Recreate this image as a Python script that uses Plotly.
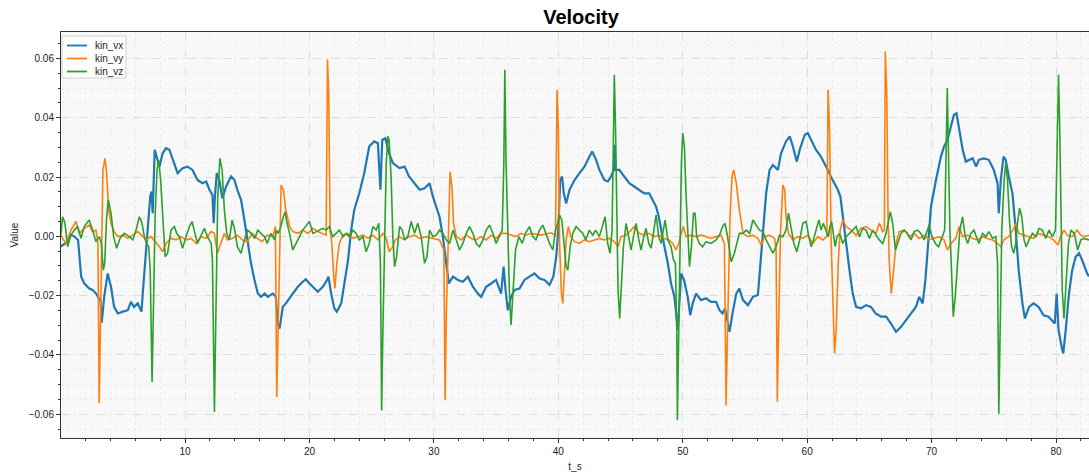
import plotly.graph_objects as go

# ---------------- data ----------------
t_vx = [0.0, 0.5, 0.8, 1.1, 1.4, 1.65, 1.9, 2.3, 2.57, 2.85, 3.0, 3.2, 3.3, 3.5, 3.78, 4.05, 4.3, 4.6, 5.0, 5.4,
        5.65, 5.9, 6.2, 6.5, 6.6, 6.8, 7.0, 7.2, 7.3, 7.4, 7.56, 7.72, 7.94, 8.2, 8.47, 8.74, 9.14, 9.4, 9.8, 10.2,
        10.6, 11.0, 11.4, 11.7, 11.96, 12.2, 12.3, 12.4, 12.55, 12.76, 13.0, 13.3, 13.7, 13.97, 14.2, 14.5, 14.77, 15.04, 15.3, 15.58,
        15.85, 16.1, 16.4, 16.65, 17.05, 17.3, 17.45, 17.6, 17.85, 18.1, 18.4, 18.66, 19.06, 19.46, 19.7, 20.0, 20.27, 20.67, 21.07, 21.34,
        21.53, 21.74, 22.0, 22.2, 22.55, 22.8, 23.1, 23.35, 23.6, 24.0, 24.4, 24.8, 25.2, 25.5, 25.7, 25.85, 26.1, 26.4, 26.7, 27.24,
        27.64, 28.0, 28.45, 28.85, 29.25, 29.65, 29.92, 30.19, 30.45, 30.72, 30.99, 31.2, 31.53, 31.93, 32.33, 32.73, 33.13, 33.53, 33.8, 34.2,
        34.6, 35.0, 35.4, 35.6, 35.76, 35.94, 36.2, 36.48, 36.88, 37.28, 37.68, 38.08, 38.49, 38.89, 39.29, 39.6, 39.83, 40.0, 40.15, 40.3,
        40.44, 40.63, 40.9, 41.3, 41.7, 42.1, 42.5, 42.72, 43.04, 43.3, 43.7, 43.98, 44.24, 44.45, 44.52, 44.6, 44.9, 45.3, 45.7, 46.1,
        46.5, 46.9, 47.3, 47.6, 47.86, 48.07, 48.26, 48.53, 48.8, 49.06, 49.33, 49.6, 49.87, 50.1, 50.4, 50.6, 50.8, 51.07, 51.47, 51.87,
        52.27, 52.68, 52.95, 53.2, 53.4, 53.6, 53.75, 54.0, 54.3, 54.55, 54.84, 55.24, 55.64, 56.04, 56.2, 56.44, 56.7, 56.98, 57.25, 57.65,
        57.9, 58.3, 58.6, 58.85, 59.17, 59.4, 59.8, 60.05, 60.3, 60.7, 61.1, 61.4, 61.66, 61.9, 62.2, 62.46, 62.67, 62.86, 63.1, 63.4,
        63.66, 63.93, 64.33, 64.73, 65.13, 65.5, 65.94, 66.34, 66.74, 67.14, 67.54, 67.94, 68.34, 68.74, 69.0, 69.28, 69.5, 69.68, 69.95, 70.35,
        70.75, 71.0, 71.28, 71.55, 71.8, 72.0, 72.2, 72.5, 72.75, 73.0, 73.3, 73.58, 73.8, 74.2, 74.6, 75.0, 75.3, 75.4, 75.56, 75.78,
        75.96, 76.2, 76.5, 76.76, 77.0, 77.3, 77.5, 77.83, 78.2, 78.6, 79.0, 79.4, 79.7, 79.9, 80.05, 80.2, 80.45, 80.58, 80.78, 81.04,
        81.3, 81.58, 81.85, 82.1, 82.5, 82.65]
kin_vx = [-0.0035, -0.0020, 0.0005, 0.0000, -0.0012, -0.0136, -0.0159, -0.0176, -0.0181, -0.0193, -0.0204, -0.0215, -0.0292, -0.0204, -0.0125, -0.0170, -0.0238, -0.0260, -0.0254, -0.0249,
          -0.0221, -0.0238, -0.0226, -0.0254, -0.0193, -0.0091, 0.0021, 0.0134, 0.0151, 0.0078, 0.0292, 0.0269, 0.0235, 0.0280, 0.0297, 0.0292, 0.0241, 0.0213, 0.0230, 0.0235,
          0.0224, 0.0190, 0.0179, 0.0185, 0.0157, 0.0140, 0.0044, 0.0134, 0.0213, 0.0190, 0.0128, 0.0168, 0.0202, 0.0190, 0.0157, 0.0123, 0.0055, -0.0024, -0.0091, -0.0147,
          -0.0193, -0.0204, -0.0193, -0.0204, -0.0193, -0.0204, -0.0292, -0.0311, -0.0238, -0.0226, -0.0209, -0.0193, -0.0170, -0.0153, -0.0145, -0.0159, -0.0170, -0.0187, -0.0170, -0.0153,
          -0.0136, -0.0193, -0.0243, -0.0254, -0.0226, -0.0159, -0.0080, 0.0021, 0.0089, 0.0145, 0.0213, 0.0303, 0.0320, 0.0314, 0.0157, 0.0325, 0.0331, 0.0280, 0.0247, 0.0230,
          0.0235, 0.0202, 0.0179, 0.0157, 0.0162, 0.0179, 0.0134, 0.0100, 0.0066, -0.0001, -0.0080, -0.0159, -0.0136, -0.0147, -0.0153, -0.0136, -0.0170, -0.0193, -0.0204, -0.0170,
          -0.0159, -0.0147, -0.0193, -0.0102, -0.0181, -0.0249, -0.0204, -0.0181, -0.0176, -0.0147, -0.0136, -0.0125, -0.0142, -0.0147, -0.0164, -0.0136, -0.0069, 0.0021, 0.0190, 0.0202,
          0.0145, 0.0111, 0.0157, 0.0190, 0.0213, 0.0235, 0.0269, 0.0286, 0.0258, 0.0224, 0.0190, 0.0185, 0.0202, 0.0224, 0.0309, 0.0224, 0.0224, 0.0202, 0.0179, 0.0168,
          0.0157, 0.0145, 0.0145, 0.0123, 0.0100, 0.0066, 0.0021, -0.0035, -0.0091, -0.0159, -0.0204, -0.0316, -0.0125, -0.0147, -0.0204, -0.0266, -0.0226, -0.0193, -0.0215, -0.0209,
          -0.0221, -0.0221, -0.0249, -0.0260, -0.0243, -0.0294, -0.0322, -0.0260, -0.0193, -0.0176, -0.0215, -0.0232, -0.0204, -0.0198, -0.0114, 0.0021, 0.0145, 0.0224, 0.0241, 0.0224,
          0.0280, 0.0320, 0.0337, 0.0303, 0.0252, 0.0292, 0.0342, 0.0348, 0.0325, 0.0292, 0.0269, 0.0247, 0.0224, 0.0202, 0.0179, 0.0157, 0.0134, 0.0066, -0.0024, -0.0114,
          -0.0193, -0.0238, -0.0243, -0.0232, -0.0238, -0.0260, -0.0271, -0.0271, -0.0294, -0.0322, -0.0305, -0.0283, -0.0260, -0.0238, -0.0204, -0.0226, -0.0147, -0.0035, 0.0100, 0.0190,
          0.0269, 0.0303, 0.0325, 0.0370, 0.0410, 0.0415, 0.0359, 0.0292, 0.0252, 0.0258, 0.0263, 0.0235, 0.0258, 0.0263, 0.0258, 0.0224, 0.0179, 0.0078, 0.0190, 0.0269,
          0.0258, 0.0202, 0.0145, 0.0021, -0.0114, -0.0226, -0.0277, -0.0238, -0.0226, -0.0238, -0.0266, -0.0271, -0.0283, -0.0294, -0.0193, -0.0316, -0.0372, -0.0395, -0.0316, -0.0193,
          -0.0114, -0.0069, -0.0057, -0.0080, -0.0125, -0.0135]

t_vy = [0.0, 0.43, 0.83, 1.23, 1.5, 1.9, 2.3, 2.57, 2.84, 3.0, 3.1, 3.2, 3.3, 3.4, 3.57, 3.7, 3.86, 4.05, 4.3, 4.6,
        5.0, 5.4, 5.8, 6.2, 6.5, 6.86, 7.27, 7.5, 7.94, 8.2, 8.47, 8.87, 9.28, 9.68, 10.08, 10.5, 10.9, 11.3, 11.7, 12.1,
        12.36, 12.6, 12.9, 13.16, 13.4, 13.8, 14.2, 14.6, 15.0, 15.4, 15.8, 16.2, 16.6, 17.05, 17.26, 17.37, 17.48, 17.6, 17.72, 17.9,
        18.1, 18.4, 18.66, 19.06, 19.46, 19.87, 20.27, 20.67, 21.07, 21.34, 21.45, 21.55, 21.66, 21.8, 21.95, 22.04, 22.2, 22.4, 22.7, 23.1,
        23.5, 23.9, 24.3, 24.7, 25.1, 25.5, 25.9, 26.17, 26.4, 26.7, 26.9, 27.24, 27.64, 28.0, 28.45, 28.85, 29.4, 29.92, 30.45, 30.8,
        30.9, 31.0, 31.18, 31.3, 31.45, 31.58, 31.8, 32.2, 32.6, 33.0, 33.4, 33.8, 34.2, 34.6, 35.0, 35.4, 35.8, 36.2, 36.6, 37.0,
        37.4, 37.8, 38.2, 38.6, 39.0, 39.4, 39.77, 39.9, 40.0, 40.1, 40.25, 40.36, 40.5, 40.63, 40.8, 41.0, 41.3, 41.7, 42.1, 42.5,
        42.9, 43.3, 43.7, 44.1, 44.5, 44.8, 45.05, 45.45, 45.85, 46.1, 46.5, 46.9, 47.3, 47.7, 48.1, 48.5, 48.9, 49.2, 49.46, 49.68,
        49.87, 50.05, 50.27, 50.67, 51.07, 51.47, 51.87, 52.27, 52.68, 53.08, 53.35, 53.48, 53.6, 53.8, 53.96, 54.1, 54.3, 54.55, 54.84, 55.24,
        55.64, 56.04, 56.3, 56.58, 56.98, 57.38, 57.5, 57.6, 57.7, 57.86, 58.05, 58.2, 58.3, 58.5, 58.85, 59.25, 59.65, 60.05, 60.45, 60.86,
        61.26, 61.58, 61.68, 61.8, 61.93, 62.06, 62.2, 62.33, 62.5, 62.65, 62.86, 63.13, 63.53, 63.93, 64.33, 64.73, 65.13, 65.53, 65.8, 66.07,
        66.2, 66.28, 66.4, 66.5, 66.6, 66.76, 66.9, 67.14, 67.4, 67.8, 68.2, 68.6, 69.0, 69.4, 69.8, 70.2, 70.6, 71.0, 71.28, 71.55,
        71.95, 72.2, 72.5, 72.9, 73.3, 73.7, 74.1, 74.5, 74.9, 75.3, 75.56, 75.8, 76.2, 76.6, 76.76, 77.0, 77.4, 77.8, 78.2, 78.6,
        79.0, 79.4, 79.8, 80.15, 80.37, 80.64, 80.9, 81.3, 81.7, 81.98, 82.25, 82.65]
kin_vy = [0.0004, -0.0024, 0.0021, 0.0050, 0.0010, 0.0027, 0.0038, 0.0016, 0.0021, -0.0024, -0.0563, -0.0316, -0.0035, 0.0224, 0.0263, 0.0213, 0.0089, 0.0044, 0.0016, -0.0001,
          0.0004, -0.0007, 0.0004, 0.0016, 0.0004, -0.0012, -0.0001, -0.0012, -0.0035, -0.0052, -0.0024, -0.0007, -0.0012, -0.0001, -0.0012, -0.0007, -0.0024, -0.0001, -0.0007, 0.0016,
          0.0010, -0.0057, -0.0024, 0.0010, -0.0012, -0.0007, 0.0004, -0.0012, -0.0018, 0.0010, -0.0007, -0.0018, 0.0004, -0.0001, 0.0033, -0.0542, -0.0316, -0.0035, 0.0173, 0.0157,
          0.0089, 0.0033, 0.0016, 0.0010, 0.0021, 0.0010, 0.0027, 0.0016, 0.0010, 0.0004, 0.0596, 0.0472, 0.0021, -0.0024, -0.0136, -0.0176, -0.0091, -0.0024, 0.0004, 0.0010,
          -0.0007, -0.0001, 0.0004, -0.0007, 0.0004, -0.0012, 0.0010, -0.0007, -0.0052, -0.0035, -0.0012, -0.0001, -0.0012, -0.0001, 0.0004, -0.0007, -0.0001, -0.0007, -0.0012, -0.0046,
          -0.0553, -0.0260, 0.0066, 0.0218, 0.0168, 0.0044, -0.0001, -0.0012, 0.0004, -0.0007, -0.0012, -0.0001, -0.0012, 0.0004, -0.0007, 0.0010, 0.0010, 0.0004, -0.0001, 0.0010,
          0.0004, 0.0010, 0.0008, 0.0004, 0.0008, 0.0012, 0.0004, 0.0494, 0.0359, -0.0024, -0.0193, -0.0226, -0.0114, -0.0012, 0.0033, -0.0001, -0.0018, -0.0024, -0.0012, -0.0018,
          -0.0012, -0.0007, -0.0012, -0.0007, -0.0018, -0.0035, -0.0001, 0.0004, 0.0021, 0.0033, 0.0010, 0.0004, 0.0010, -0.0001, 0.0004, -0.0007, -0.0012, -0.0024, -0.0046, -0.0024,
          0.0010, 0.0033, -0.0001, 0.0004, -0.0001, 0.0004, -0.0001, -0.0007, -0.0001, 0.0004, -0.0024, -0.0570, -0.0316, 0.0066, 0.0202, 0.0224, 0.0180, 0.0089, 0.0010, -0.0001,
          0.0004, -0.0007, -0.0029, -0.0001, 0.0004, -0.0007, -0.0046, -0.0558, -0.0316, 0.0021, 0.0173, 0.0156, 0.0066, 0.0010, -0.0012, -0.0001, -0.0007, 0.0004, -0.0024, -0.0001,
          -0.0012, -0.0001, 0.0494, 0.0359, -0.0024, -0.0204, -0.0395, -0.0316, -0.0091, 0.0021, 0.0055, 0.0033, 0.0021, 0.0004, 0.0027, 0.0033, 0.0021, 0.0010, 0.0044, 0.0016,
          0.0021, 0.0624, 0.0472, 0.0066, -0.0091, -0.0193, -0.0136, -0.0024, 0.0016, 0.0021, -0.0001, 0.0010, -0.0007, 0.0004, -0.0012, -0.0007, -0.0001, -0.0012, -0.0046, -0.0024,
          -0.0007, 0.0033, -0.0001, 0.0004, -0.0007, -0.0012, -0.0001, -0.0007, -0.0012, -0.0024, -0.0035, -0.0012, -0.0001, 0.0027, 0.0044, 0.0010, 0.0004, -0.0001, -0.0007, 0.0010,
          0.0004, -0.0001, -0.0012, -0.0029, -0.0001, 0.0021, 0.0004, -0.0001, 0.0021, 0.0004, -0.0001, 0.0004]

t_vz = [0.0, 0.16, 0.35, 0.56, 0.83, 1.1, 1.37, 1.64, 1.9, 2.3, 2.57, 2.84, 3.1, 3.27, 3.43, 3.54, 3.7, 3.83, 4.05, 4.26,
        4.5, 4.77, 5.12, 5.52, 5.8, 6.06, 6.33, 6.54, 6.73, 6.9, 7.08, 7.2, 7.35, 7.48, 7.6, 7.75, 7.88, 8.04, 8.2, 8.4,
        8.6, 8.87, 9.14, 9.33, 9.54, 9.8, 10.08, 10.35, 10.56, 10.75, 11.0, 11.3, 11.55, 11.8, 12.1, 12.2, 12.36, 12.5, 12.63, 12.8,
        12.98, 13.16, 13.35, 13.56, 13.78, 14.0, 14.2, 14.5, 14.77, 15.04, 15.3, 15.6, 15.85, 16.1, 16.4, 16.6, 16.9, 17.2, 17.35, 17.5,
        17.7, 17.9, 18.04, 18.2, 18.4, 18.66, 18.9, 19.2, 19.46, 19.7, 20.0, 20.27, 20.5, 20.8, 21.07, 21.34, 21.6, 21.87, 22.14, 22.4,
        22.7, 22.95, 23.2, 23.5, 23.75, 24.0, 24.3, 24.55, 24.8, 25.1, 25.36, 25.57, 25.7, 25.8, 25.9, 26.03, 26.17, 26.3, 26.4, 26.57,
        26.7, 26.84, 27.0, 27.24, 27.46, 27.64, 27.9, 28.18, 28.45, 28.7, 28.98, 29.25, 29.44, 29.65, 29.92, 30.19, 30.45, 30.72, 31.0, 31.26,
        31.53, 31.8, 32.06, 32.33, 32.6, 32.86, 33.13, 33.4, 33.67, 33.94, 34.2, 34.47, 34.74, 35.0, 35.27, 35.49, 35.62, 35.7, 35.8, 35.94,
        36.08, 36.2, 36.35, 36.56, 36.83, 37.1, 37.36, 37.68, 37.95, 38.2, 38.49, 38.75, 39.0, 39.29, 39.56, 39.77, 39.96, 40.1, 40.28, 40.44,
        40.63, 40.76, 40.95, 41.16, 41.43, 41.7, 41.97, 42.2, 42.5, 42.77, 43.0, 43.3, 43.57, 43.76, 43.97, 44.16, 44.32, 44.43, 44.5, 44.6,
        44.7, 44.8, 44.93, 45.07, 45.23, 45.45, 45.66, 45.85, 46.04, 46.25, 46.47, 46.65, 46.87, 47.05, 47.27, 47.46, 47.64, 47.86, 48.07, 48.26,
        48.39, 48.58, 48.8, 49.06, 49.25, 49.41, 49.52, 49.57, 49.68, 49.78, 49.89, 50.0, 50.13, 50.27, 50.4, 50.54, 50.7, 50.86, 50.99, 51.12,
        51.34, 51.6, 51.87, 52.27, 52.68, 52.95, 53.2, 53.4, 53.6, 53.75, 53.9, 54.15, 54.4, 54.55, 54.84, 55.1, 55.38, 55.64, 55.9, 56.17,
        56.44, 56.7, 56.98, 57.25, 57.5, 57.78, 58.05, 58.3, 58.5, 58.7, 58.93, 59.17, 59.4, 59.65, 59.92, 60.13, 60.32, 60.5, 60.72, 60.94,
        61.12, 61.3, 61.5, 61.7, 61.83, 61.96, 62.1, 62.25, 62.4, 62.6, 62.86, 63.13, 63.4, 63.66, 63.93, 64.2, 64.46, 64.73, 65.0, 65.27,
        65.53, 65.8, 66.07, 66.34, 66.55, 66.68, 66.87, 67.09, 67.27, 67.54, 67.8, 68.07, 68.34, 68.6, 68.88, 69.14, 69.4, 69.6, 69.8, 70.03,
        70.3, 70.56, 70.83, 71.05, 71.15, 71.26, 71.37, 71.47, 71.6, 71.74, 71.9, 72.09, 72.27, 72.49, 72.7, 72.9, 73.16, 73.4, 73.6, 73.8,
        74.1, 74.36, 74.6, 74.9, 75.16, 75.3, 75.4, 75.5, 75.64, 75.83, 75.96, 76.1, 76.27, 76.43, 76.6, 76.76, 76.9, 77.07, 77.25, 77.43,
        77.6, 77.83, 78.1, 78.37, 78.64, 78.9, 79.17, 79.44, 79.7, 79.96, 80.1, 80.2, 80.3, 80.4, 80.5, 80.64, 80.8, 81.0, 81.2, 81.47,
        81.74, 82.0, 82.25, 82.65]
kin_vz = [-0.0001, 0.0066, 0.0044, -0.0035, 0.0004, 0.0021, 0.0033, -0.0007, 0.0033, 0.0055, 0.0021, -0.0018, -0.0001, -0.0024, -0.0114, -0.0091, 0.0066, 0.0123, 0.0078, -0.0001,
          -0.0040, -0.0007, 0.0010, -0.0001, -0.0012, 0.0021, 0.0066, 0.0044, -0.0001, -0.0024, -0.0035, -0.0114, -0.0491, -0.0204, 0.0078, 0.0224, 0.0258, 0.0190, 0.0066, -0.0069,
          -0.0057, 0.0021, 0.0033, 0.0010, -0.0001, -0.0040, -0.0001, 0.0033, 0.0050, 0.0021, -0.0024, 0.0004, 0.0027, -0.0001, -0.0024, -0.0079, -0.0592, -0.0204, 0.0134, 0.0263,
          0.0224, 0.0089, 0.0010, -0.0012, 0.0055, 0.0021, -0.0035, -0.0057, -0.0012, 0.0021, 0.0010, -0.0007, 0.0021, 0.0010, -0.0001, -0.0024, 0.0010, -0.0012, 0.0021, 0.0010,
          0.0033, 0.0066, 0.0083, 0.0044, 0.0010, -0.0046, -0.0024, -0.0001, 0.0021, 0.0033, 0.0050, 0.0010, 0.0016, 0.0021, 0.0027, 0.0021, 0.0033, -0.0001, 0.0010, 0.0021,
          -0.0001, 0.0010, -0.0001, 0.0021, 0.0010, -0.0012, -0.0001, -0.0052, -0.0024, 0.0033, 0.0021, 0.0044, -0.0091, -0.0587, -0.0316, 0.0021, 0.0247, 0.0337, 0.0325, 0.0190,
          -0.0001, -0.0102, -0.0069, 0.0033, 0.0021, -0.0012, -0.0001, 0.0050, 0.0010, 0.0044, -0.0001, -0.0091, -0.0069, 0.0021, -0.0001, 0.0004, 0.0021, 0.0010, -0.0012, -0.0024,
          0.0021, -0.0012, -0.0046, -0.0024, 0.0010, 0.0033, 0.0010, -0.0024, -0.0035, -0.0012, 0.0021, 0.0038, 0.0010, -0.0024, -0.0001, 0.0021, 0.0247, 0.0562, 0.0247, -0.0035,
          -0.0204, -0.0299, -0.0204, -0.0046, -0.0001, -0.0024, 0.0010, 0.0033, -0.0001, -0.0012, 0.0021, 0.0038, 0.0010, -0.0024, -0.0046, 0.0021, 0.0044, 0.0072, 0.0055, -0.0024,
          -0.0102, -0.0114, -0.0035, 0.0010, 0.0033, 0.0021, 0.0010, -0.0012, 0.0021, 0.0004, 0.0021, -0.0001, 0.0044, 0.0066, -0.0024, -0.0057, 0.0021, 0.0360, 0.0545, 0.0360,
          0.0021, -0.0181, -0.0277, -0.0181, -0.0035, 0.0044, -0.0001, -0.0046, -0.0001, 0.0044, -0.0012, -0.0046, -0.0001, 0.0027, -0.0024, -0.0040, 0.0010, 0.0072, -0.0001, -0.0024,
          0.0010, 0.0055, -0.0012, -0.0035, -0.0079, -0.0091, -0.0316, -0.0620, -0.0316, 0.0021, 0.0247, 0.0348, 0.0303, 0.0134, -0.0001, -0.0102, -0.0035, 0.0078, 0.0078, -0.0001,
          -0.0024, -0.0035, -0.0018, -0.0024, -0.0012, 0.0004, 0.0033, 0.0044, -0.0001, -0.0046, -0.0086, -0.0057, -0.0012, 0.0010, 0.0010, 0.0021, 0.0010, 0.0055, 0.0038, 0.0021,
          0.0016, -0.0012, -0.0035, -0.0057, -0.0035, 0.0004, -0.0001, 0.0021, 0.0078, 0.0033, -0.0024, -0.0052, -0.0012, 0.0044, 0.0050, -0.0001, -0.0035, -0.0012, 0.0021, 0.0055,
          0.0021, 0.0044, 0.0021, -0.0001, 0.0033, 0.0050, 0.0010, -0.0035, -0.0001, 0.0010, -0.0024, -0.0001, 0.0010, 0.0021, 0.0033, -0.0001, 0.0027, 0.0021, -0.0007, 0.0021,
          0.0004, -0.0012, -0.0024, 0.0010, 0.0055, 0.0083, 0.0044, -0.0046, -0.0024, 0.0010, 0.0021, 0.0010, -0.0012, 0.0016, 0.0021, 0.0010, -0.0012, 0.0010, 0.0038, -0.0001,
          -0.0024, -0.0035, -0.0001, 0.0021, 0.0247, 0.0500, 0.0247, 0.0021, -0.0114, -0.0271, -0.0204, -0.0069, 0.0021, 0.0066, -0.0001, -0.0024, 0.0010, 0.0021, -0.0001, -0.0024,
          0.0010, -0.0001, 0.0016, -0.0007, -0.0001, -0.0091, -0.0598, -0.0316, 0.0021, 0.0190, 0.0247, 0.0190, 0.0044, -0.0035, -0.0057, -0.0024, 0.0044, 0.0095, 0.0066, -0.0012,
          -0.0035, -0.0012, 0.0010, -0.0001, 0.0027, 0.0021, -0.0007, 0.0021, -0.0001, 0.0021, 0.0360, 0.0545, 0.0360, 0.0021, -0.0181, -0.0277, -0.0159, -0.0024, 0.0021, 0.0010,
          -0.0046, -0.0012, -0.0007, -0.0012]

series_names = ["kin_vx", "kin_vy", "kin_vz"]
series_colors = ["#1f77b4", "#ff7f0e", "#2ca02c"]

y_tick_vals = [-0.06, -0.04, -0.02, 0.0, 0.02, 0.04, 0.06]
y_tick_text = ["\u22120.06", "\u22120.04", "\u22120.02", "0.00", "0.02", "0.04", "0.06"]
x_tick_vals = [10, 20, 30, 40, 50, 60, 70, 80]

# ---------------- figure ----------------
FONT = "Liberation Sans, Arial, sans-serif"
fig = go.Figure()
for t, v, name, col, w in zip([t_vx, t_vy, t_vz], [kin_vx, kin_vy, kin_vz],
                              series_names, series_colors, [2.2, 1.6, 1.6]):
    fig.add_trace(go.Scatter(x=t, y=v, mode="lines", name=name, showlegend=False,
                             line=dict(color=col, width=w)))

# compact matplotlib-style legend box (upper left), paper coordinates
W_PLOT, H_PLOT = 1089 - 61, 476 - 32 - 38
def px(x):
    return (x - 61) / W_PLOT
def py(y):
    return (438 - y) / H_PLOT

shapes = [dict(type="rect", xref="paper", yref="paper",
               x0=px(62), x1=px(126), y0=py(78), y1=py(36),
               fillcolor="rgba(255,255,255,0.85)", line=dict(color="#d0d0d0", width=1), layer="above")]
annotations = []
for i, (name, col) in enumerate(zip(series_names, series_colors)):
    yy = 45.5 + i * 13
    shapes.append(dict(type="line", xref="paper", yref="paper", x0=px(67), x1=px(87),
                       y0=py(yy), y1=py(yy), line=dict(color=col, width=1.8), layer="above"))
    annotations.append(dict(text=name, xref="paper", yref="paper", x=px(93), y=py(yy),
                            xanchor="left", yanchor="middle", showarrow=False,
                            font=dict(family=FONT, size=10, color="#222")))

fig.update_layout(
    width=1089, height=476,
    margin=dict(l=61, r=0, t=32, b=38),
    paper_bgcolor="white",
    plot_bgcolor="#f8f8f8",
    font=dict(family=FONT, size=10, color="#222"),
    title=dict(text="<b>Velocity</b>", x=581 / 1089, xref="container", xanchor="center",
               y=1 - 17 / 476, yref="container", yanchor="middle",
               font=dict(family=FONT, size=20, color="black")),
    showlegend=False,
    shapes=shapes,
    annotations=annotations,
    xaxis=dict(range=[0.03, 82.65], tickmode="array", tickvals=x_tick_vals,
               showline=True, linecolor="#333", linewidth=1, mirror=True,
               ticks="outside", ticklen=4, tickcolor="#333",
               showgrid=True, gridcolor="#dddddd", griddash="dash", gridwidth=1,
               zeroline=False,
               minor=dict(dtick=2, tick0=0, ticks="outside", ticklen=2, tickcolor="#333",
                          showgrid=True, gridcolor="#ececec", griddash="dot"),
               title=dict(text="t_s", font=dict(size=10), standoff=6),
               tickfont=dict(size=10)),
    yaxis=dict(range=[-0.068, 0.0689], tickmode="array", tickvals=y_tick_vals, ticktext=y_tick_text,
               showline=True, linecolor="#333", linewidth=1, mirror=False,
               ticks="outside", ticklen=4, tickcolor="#333",
               showgrid=True, gridcolor="#dddddd", griddash="dash", gridwidth=1,
               zeroline=False,
               minor=dict(dtick=0.005, tick0=0, ticks="outside", ticklen=2, tickcolor="#333",
                          showgrid=True, gridcolor="#ececec", griddash="dot"),
               title=dict(text="Value", font=dict(size=10), standoff=8),
               tickfont=dict(size=10)),
)

fig.write_html("out.html")
